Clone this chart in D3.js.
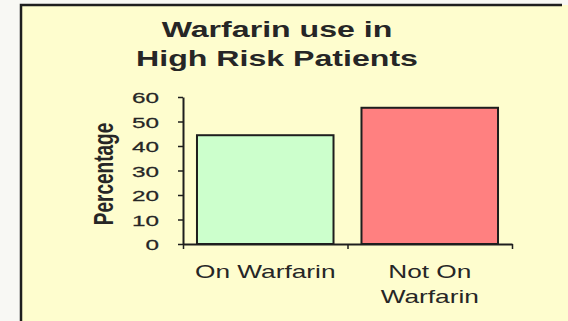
<!DOCTYPE html>
<html>
<head>
<meta charset="utf-8">
<script src="https://cdn.jsdelivr.net/npm/d3@7"></script>
<style>
  html, body { margin: 0; padding: 0; background: #f8f8f4; }
  svg { display: block; }
  text { font-family: "Liberation Sans", Arial, sans-serif; fill: #262626; }
</style>
</head>
<body>
<svg id="chart" width="568" height="321"></svg>
<script>
// Share of high-risk patients on / not on warfarin
const categories = ["On Warfarin", "Not On Warfarin"];
const categoryLines = [["On Warfarin"], ["Not On", "Warfarin"]];
const percentages = [44.4, 55.6];
const barColors = ["#ccffcc", "#ff8080"];
const yTicks = [0, 10, 20, 30, 40, 50, 60];
const titleLines = ["Warfarin use in", "High Risk Patients"];
const yAxisTitle = "Percentage";

const svg = d3.select("#chart");
const W = 568, H = 321;
const stretch = 1.46; // wide glyph aspect used for the labels

// chart area
svg.append("rect").attr("x", 21).attr("y", 5).attr("width", W - 21).attr("height", H - 5)
  .attr("fill", "#fefdce");
svg.append("path").attr("d", `M21,${H} V5 H562`)
  .attr("fill", "none").attr("stroke", "#1e1e1e").attr("stroke-width", 2.5);

const plot = { left: 183, right: 512, top: 97, bottom: 244 };

const y = d3.scaleLinear().domain([0, 60]).range([plot.bottom, plot.top]);
const x = d3.scaleBand().domain(categories).range([plot.left, plot.right])
  .paddingInner(0.17).paddingOuter(0.085);

// title
svg.append("g").selectAll("text").data(titleLines).join("text")
  .attr("transform", (d, i) => `translate(277,${37 + i * 28.5}) scale(${stretch},1)`)
  .attr("text-anchor", "middle")
  .attr("font-size", 22).attr("font-weight", "bold")
  .text(d => d);

// bars
svg.append("g").selectAll("rect").data(categories).join("rect")
  .attr("x", d => x(d))
  .attr("y", (d, i) => y(percentages[i]))
  .attr("width", x.bandwidth())
  .attr("height", (d, i) => y(0) - y(percentages[i]))
  .attr("fill", (d, i) => barColors[i])
  .attr("stroke", "#1e1e1e").attr("stroke-width", 2);

// y axis
const yAxis = svg.append("g").attr("transform", `translate(${plot.left},0)`)
  .call(d3.axisLeft(y).tickValues(yTicks).tickSize(5).tickSizeOuter(0).tickFormat(d3.format("d")));
yAxis.select(".domain").attr("stroke", "#1e1e1e").attr("stroke-width", 2);
yAxis.selectAll(".tick line").attr("stroke", "#1e1e1e").attr("stroke-width", 1.5);
yAxis.selectAll(".tick text")
  .attr("x", 0).attr("dy", null)
  .attr("transform", `translate(-24,5.5) scale(1.62,1)`)
  .attr("font-size", 15).attr("font-family", null).attr("fill", "#262626")
  .attr("stroke", "#262626").attr("stroke-width", 0.25);

// x axis: ticks at category boundaries
const xEdges = d3.scaleLinear().domain([0, categories.length]).range([plot.left, plot.right]);
const xAxis = svg.append("g").attr("transform", `translate(0,${plot.bottom})`)
  .call(d3.axisBottom(xEdges).tickValues(d3.range(categories.length + 1)).tickSize(5)
    .tickSizeOuter(0).tickFormat(""));
xAxis.select(".domain").attr("stroke", "#1e1e1e").attr("stroke-width", 2);
xAxis.selectAll(".tick line").attr("stroke", "#1e1e1e").attr("stroke-width", 1.5);

// category labels
const labels = svg.append("g");
categories.forEach((c, i) => {
  labels.selectAll(null).data(categoryLines[i]).join("text")
    .attr("transform", (d, j) => `translate(${x(c) + x.bandwidth() / 2},${278 + j * 25}) scale(1.5,1)`)
    .attr("text-anchor", "middle")
    .attr("font-size", 17.5)
    .text(d => d);
});

// y axis title
svg.append("text")
  .attr("transform", `translate(113,174) scale(${stretch},1) rotate(-90)`)
  .attr("text-anchor", "middle")
  .attr("font-size", 19).attr("font-weight", "bold")
  .text(yAxisTitle);
</script>
</body>
</html>
